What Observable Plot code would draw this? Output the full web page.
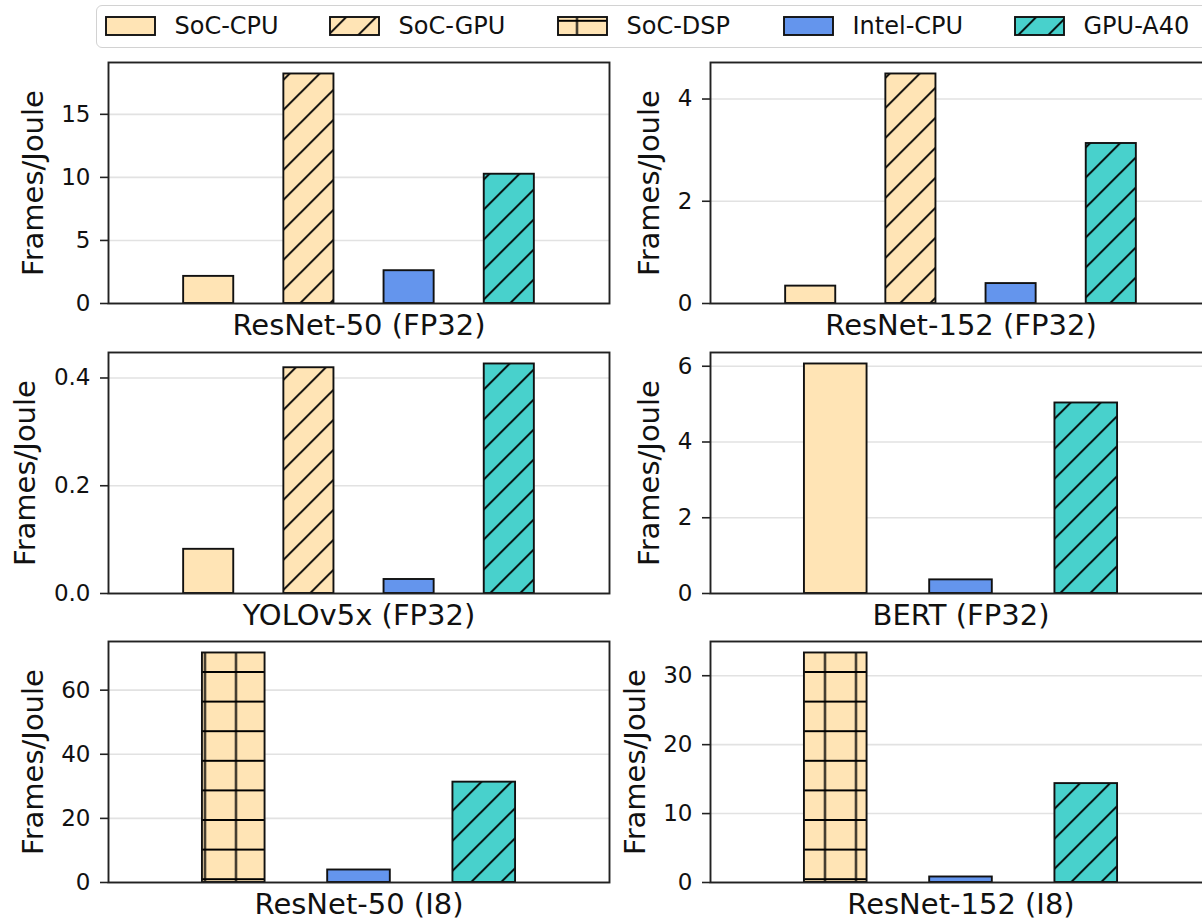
<!DOCTYPE html>
<html>
<head>
<meta charset="utf-8">
<script src="https://cdn.jsdelivr.net/npm/d3@7"></script>
<script src="https://cdn.jsdelivr.net/npm/@observablehq/plot@0.6"></script>
<style>
  html, body { margin: 0; padding: 0; background: #fff; overflow: hidden; }
  #root { position: relative; width: 1202px; height: 921px; overflow: hidden; font-family: "DejaVu Sans", sans-serif; background: #fff; }
  .panel { position: absolute; }
  #legend { position: absolute; left: 96px; top: 5px; width: 1140px; height: 43px; border: 1.5px solid #d2d2d2; border-radius: 6px; box-sizing: border-box; background: #fff; }
  .patch { position: absolute; }
  .ltext { position: absolute; font-size: 24px; color: #111; white-space: nowrap; line-height: 24px; }
</style>
</head>
<body>
<div id="root"><div id="legend"></div></div>
<script>
// ---------------- data ----------------
const legendDevices = ["SoC-CPU", "SoC-GPU", "SoC-DSP", "Intel-CPU", "GPU-A40"];

const fp32Devices = ["SoC-CPU", "SoC-GPU", "Intel-CPU", "GPU-A40"];
const bertDevices = ["SoC-CPU", "Intel-CPU", "GPU-A40"];
const i8Devices = ["SoC-DSP", "Intel-CPU", "GPU-A40"];

const resnet50Fp32Values = [2.15, 18.2, 2.6, 10.25];
const resnet152Fp32Values = [0.34, 4.49, 0.39, 3.13];
const yoloFp32Values = [0.082, 0.419, 0.026, 0.426];
const bertFp32Values = [6.06, 0.36, 5.03];
const resnet50I8Values = [71.6, 3.9, 31.3];
const resnet152I8Values = [33.3, 0.8, 14.35];

const resnet50Fp32Ticks = [0, 5, 10, 15];
const resnet152Fp32Ticks = [0, 2, 4];
const yoloFp32Ticks = [0.0, 0.2, 0.4];
const bertFp32Ticks = [0, 2, 4, 6];
const resnet50I8Ticks = [0, 20, 40, 60];
const resnet152I8Ticks = [0, 10, 20, 30];

const panelTitles = ["ResNet-50 (FP32)", "ResNet-152 (FP32)", "YOLOv5x (FP32)", "BERT (FP32)", "ResNet-50 (I8)", "ResNet-152 (I8)"];
const yLabel = "Frames/Joule";

// ---------------- styles ----------------
const FONT = "DejaVu Sans";
const deviceColors = {"SoC-CPU": "#FFE4B5", "SoC-GPU": "#FFE4B5", "SoC-DSP": "#FFE4B5", "Intel-CPU": "#6495ED", "GPU-A40": "#48D1CC"};
const deviceHatch = {"SoC-CPU": null, "SoC-GPU": "diag", "SoC-DSP": "grid", "Intel-CPU": null, "GPU-A40": "diag"};

function mod(a, n) { return ((a % n) + n) % n; }
function patternDefs(suffix, left, top) {
  const dy = mod(3.3 - left - top, 30);
  const gx = mod(19 - left - 15.5, 31);
  const gy = mod(20.8 - top - 14.8, 29.6);
  return `<pattern id="diag-${suffix}" patternUnits="userSpaceOnUse" x="0" y="${dy}" width="30" height="30">` +
    `<path d="M-3,3 L3,-3 M0,30 L30,0 M27,33 L33,27" stroke="#000" stroke-width="1.9" fill="none"/></pattern>` +
    `<pattern id="grid-${suffix}" patternUnits="userSpaceOnUse" x="${gx}" y="${gy}" width="31" height="29.6">` +
    `<path d="M15.5,0 V29.6 M0,14.8 H31" stroke="#000" stroke-width="1.9" fill="none"/></pattern>`;
}

const canvas = document.createElement("canvas");
const ctx = canvas.getContext("2d");
function textWidth(s, size) { ctx.font = `${size}px "${FONT}"`; return ctx.measureText(s).width; }

const root = document.getElementById("root");
const TICK_FS = 23, LABEL_FS = 29;

function panel(idx, devices, values, ticks, title, fmt) {
  const col = idx % 2, row = Math.floor(idx / 2);
  const axisX = col === 0 ? 108 : 710;
  const frameTop = [62, 352, 641][row];
  const frameH = 241, frameW = 501;
  const svgLeft = col === 0 ? 0 : 610;
  const mt = 8, mr = 10;
  const mb = row === 2 ? 38 : 44;
  const svgTop = frameTop - mt;
  const ml = axisX - svgLeft;
  const data = devices.map((d, i) => ({device: d, value: values[i]}));
  const ymax = d3.max(values) * 1.05;
  const suffix = "p" + idx;
  const format = fmt || (d => String(d));
  const tickW = d3.max(ticks, t => textWidth(format(t), TICK_FS));
  const ylabOffset = 46 + tickW;
  const chart = Plot.plot({
    width: ml + frameW + mr,
    height: mt + frameH + mb,
    marginLeft: ml, marginRight: mr, marginTop: mt, marginBottom: mb,
    style: {fontFamily: FONT, background: "transparent", overflow: "visible", color: "#111"},
    x: {type: "band", domain: devices, paddingInner: 0.5, paddingOuter: 0.75, axis: null, round: false},
    y: {domain: [0, ymax], axis: null},
    color: {type: "identity"},
    marks: [
      Plot.gridY(ticks, {stroke: "#e2e2e2", strokeOpacity: 1, strokeWidth: 1.6}),
      Plot.barY(data, {x: "device", y: "value", fill: d => deviceColors[d.device]}),
      Plot.barY(data.filter(d => deviceHatch[d.device] === "diag"), {x: "device", y: "value", fill: `url(#diag-${suffix})`}),
      Plot.barY(data.filter(d => deviceHatch[d.device] === "grid"), {x: "device", y: "value", fill: `url(#grid-${suffix})`}),
      Plot.barY(data, {x: "device", y: "value", fill: "none", stroke: "#111", strokeWidth: 1.9}),
      Plot.frame({stroke: "#222", strokeWidth: 1.9}),
      Plot.axisY(ticks, {tickSize: 8, tickPadding: 10, fontSize: TICK_FS, tickFormat: format, stroke: "#222", strokeWidth: 1.6, label: null}),
      Plot.text([title], {frameAnchor: "bottom", dy: 11, lineAnchor: "top", fontSize: LABEL_FS, fill: "#111"}),
      Plot.text([yLabel], {frameAnchor: "left", dx: -ylabOffset, rotate: -90, fontSize: LABEL_FS, fill: "#111", lineAnchor: "middle", textAnchor: "middle"})
    ]
  });
  const defs = document.createElementNS("http://www.w3.org/2000/svg", "defs");
  defs.innerHTML = patternDefs(suffix, svgLeft, svgTop);
  chart.insertBefore(defs, chart.firstChild);
  chart.classList.add("panel");
  chart.style.left = svgLeft + "px";
  chart.style.top = svgTop + "px";
  root.appendChild(chart);
}

const f1 = d3.format(".1f");
panel(0, fp32Devices, resnet50Fp32Values, resnet50Fp32Ticks, panelTitles[0]);
panel(1, fp32Devices, resnet152Fp32Values, resnet152Fp32Ticks, panelTitles[1]);
panel(2, fp32Devices, yoloFp32Values, yoloFp32Ticks, panelTitles[2], f1);
panel(3, bertDevices, bertFp32Values, bertFp32Ticks, panelTitles[3]);
panel(4, i8Devices, resnet50I8Values, resnet50I8Ticks, panelTitles[4]);
panel(5, i8Devices, resnet152I8Values, resnet152I8Ticks, panelTitles[5]);

// ---------------- legend ----------------
const legend = document.getElementById("legend");
const legendLeft = 96 + 1.5, legendTop = 5 + 1.5;
const patchX = [106, 330, 558, 784, 1015];
const patchW = 49, patchH = 18, patchY = 17;
legendDevices.forEach((d, i) => {
  const px = patchX[i] - 1, py = patchY - 1;
  const svg = document.createElementNS("http://www.w3.org/2000/svg", "svg");
  svg.setAttribute("width", patchW + 2); svg.setAttribute("height", patchH + 2);
  svg.classList.add("patch");
  svg.style.left = (px - legendLeft) + "px";
  svg.style.top = (py - legendTop) + "px";
  const h = deviceHatch[d];
  svg.innerHTML = `<defs>${patternDefs("l" + i, px, py)}</defs>` +
    `<rect x="1" y="1" width="${patchW}" height="${patchH}" fill="${deviceColors[d]}"/>` +
    (h ? `<rect x="1" y="1" width="${patchW}" height="${patchH}" fill="url(#${h}-l${i})"/>` : "") +
    `<rect x="1" y="1" width="${patchW}" height="${patchH}" fill="none" stroke="#111" stroke-width="1.9"/>`;
  legend.appendChild(svg);
  const t = document.createElement("div");
  t.className = "ltext";
  t.textContent = d;
  t.style.left = (patchX[i] + patchW + 20 - legendLeft) + "px";
  t.style.top = (14 - legendTop) + "px";
  legend.appendChild(t);
});
</script>
</body>
</html>
